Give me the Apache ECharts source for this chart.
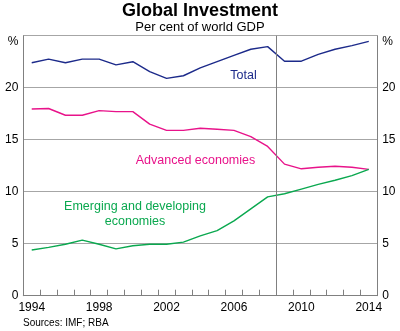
<!DOCTYPE html>
<html><head><meta charset="utf-8">
<script src="https://cdn.jsdelivr.net/npm/echarts@6/dist/echarts.min.js"></script>
<style>html,body{margin:0;padding:0;background:#fff}#c{width:400px;height:331px}</style>
</head><body><div id="c"></div>
<script>
const years = ['1994','1995','1996','1997','1998','1999','2000','2001','2002','2003','2004','2005','2006','2007','2008','2009','2010','2011','2012','2013','2014'];
const total = [22.4,22.75,22.4,22.75,22.75,22.2,22.5,21.55,20.9,21.15,21.9,22.5,23.1,23.7,23.95,22.55,22.55,23.2,23.7,24.05,24.45];
const advanced = [17.95,18.0,17.35,17.35,17.8,17.7,17.7,16.5,15.9,15.9,16.1,16.0,15.9,15.3,14.35,12.65,12.2,12.35,12.45,12.35,12.15];
const emerging = [4.4,4.65,4.95,5.35,4.95,4.5,4.8,4.95,4.95,5.15,5.75,6.25,7.2,8.35,9.5,9.8,10.25,10.7,11.1,11.55,12.15];
const yTicks = [0,5,10,15,20,25];
const breakIndex = 15; // boundary between 2008 and 2009

const font = 'Liberation Sans, Arial, sans-serif';
const blue = '#1c2a8a', pink = '#e8138a', green = '#0aa84f';
const chart = echarts.init(document.getElementById('c'));
const yLabel = {
  fontFamily: font, fontSize: 12, color: '#000', margin: 5,
  formatter: v => v === 25 ? '{p|%}' : String(v),
  rich: { p: { fontFamily: font, fontSize: 12, color: '#000', padding: [12,0,0,0] } }
};
chart.setOption({
  animation: false,
  grid: { left: 23.3, right: 22.8, top: 35.7, bottom: 35.3, containLabel: false },
  xAxis: [{
    type: 'category', data: years, boundaryGap: true,
    axisLine: { lineStyle: { color: '#808080', width: 1 } },
    axisTick: { show: true, inside: true, length: 6, interval: 0, lineStyle: { color: '#808080' } },
    axisLabel: { interval: 3, fontFamily: font, fontSize: 12, color: '#000', margin: 6 },
    splitLine: { show: false }
  }, {
    type: 'value', min: 0, max: years.length, show: false
  }],
  yAxis: [{
    type: 'value', min: 0, max: 25, interval: 5, position: 'left',
    axisLine: { show: true, lineStyle: { color: '#808080' } },
    axisTick: { show: false },
    axisLabel: yLabel,
    splitLine: { show: true, lineStyle: { color: '#a6a6a6', width: 1 } }
  }, {
    type: 'value', min: 0, max: 25, interval: 5, position: 'right',
    axisLine: { show: true, lineStyle: { color: '#808080' } },
    axisTick: { show: false },
    axisLabel: yLabel,
    splitLine: { show: false }
  }],
  series: [
    { type: 'line', data: total, symbol: 'none', lineStyle: { color: blue, width: 1.4 }, itemStyle: { color: blue } },
    { type: 'line', data: advanced, symbol: 'none', lineStyle: { color: pink, width: 1.4 }, itemStyle: { color: pink } },
    { type: 'line', data: emerging, symbol: 'none', lineStyle: { color: green, width: 1.4 }, itemStyle: { color: green } },
    { type: 'line', xAxisIndex: 1, data: [], symbol: 'none',
      markLine: { silent: true, symbol: 'none', label: { show: false },
        lineStyle: { color: '#808080', type: 'solid', width: 1 },
        data: [{ xAxis: breakIndex }] } }
  ],
  graphic: [
    { type: 'text', left: 'center', top: 2, style: { text: 'Global Investment', font: 'bold 18px ' + font, fill: '#000' } },
    { type: 'text', left: 'center', top: 21, style: { text: 'Per cent of world GDP', font: '13px ' + font, fill: '#000' } },
    { type: 'text', x: 243.5, y: 76, style: { text: 'Total', font: '12.5px ' + font, fill: blue, align: 'center', verticalAlign: 'middle' } },
    { type: 'text', x: 195.5, y: 161, style: { text: 'Advanced economies', font: '12.5px ' + font, fill: pink, align: 'center', verticalAlign: 'middle' } },
    { type: 'text', x: 135, y: 214.5, style: { text: 'Emerging and developing\neconomies', font: '12.5px ' + font, fill: green, align: 'center', verticalAlign: 'middle', lineHeight: 15 } },
    { type: 'text', left: 23, top: 318, style: { text: 'Sources: IMF; RBA', font: '10px ' + font, fill: '#000' } }
  ]
});
</script></body></html>
